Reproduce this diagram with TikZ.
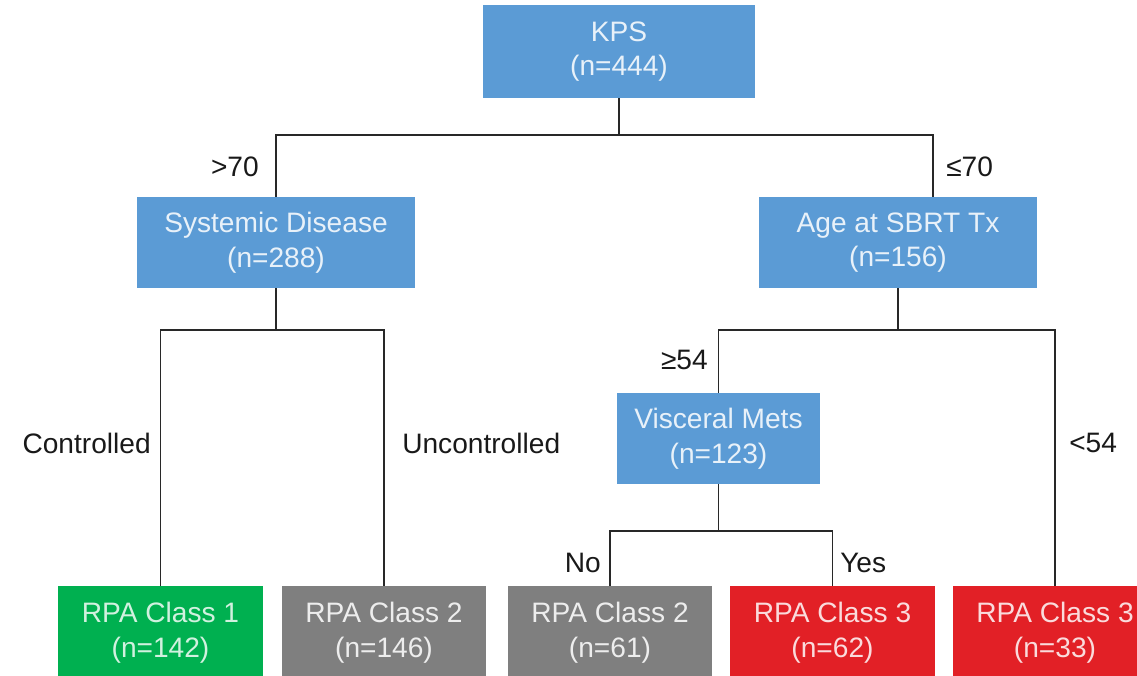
\documentclass[tikz,border=0pt]{standalone}
\usepackage{fontspec}
\setmainfont{Liberation Sans}
\usetikzlibrary{positioning}
\definecolor{rpablue}  {RGB}{91,155,213}
\definecolor{rpagreen} {RGB}{0,176,80}
\definecolor{rpagray}  {RGB}{127,127,127}
\definecolor{rpared}   {RGB}{226,32,38}
\definecolor{rpaline}  {RGB}{40,40,40}

\begin{document}
\begin{tikzpicture}[
  x=0.025cm, y=-0.025cm,
  every node/.style={font=\fontsize{20}{24.5}\selectfont},
  split/.style={fill=rpablue,text=white!86!rpablue,inner sep=0pt,align=center,
                minimum width=6.95cm,minimum height=2.275cm},
  leaf/.style={inner sep=0pt,align=center,minimum width=5.1cm,minimum height=2.325cm},
  leafgreen/.style={leaf,fill=rpagreen,text=white!82!rpagreen},
  leafgray/.style={leaf,fill=rpagray,text=white!86!rpagray},
  leafred/.style={leaf,fill=rpared,text=white!84!rpared},
  link/.style={draw=rpaline,line width=1.2pt},
  cut/.style={text=black!90,inner sep=0pt},
]
\useasboundingbox (0,0) rectangle (1137,676);
\clip (0,0) rectangle (1137,676);

%% ── Root ────────────────────────────────────────────────────────────────
\node[split,minimum width=6.8cm,minimum height=2.325cm] (kps) at (619,51.5)
  {KPS\\(n=444)};

%% ── Second level ────────────────────────────────────────────────────────
\node[split] (sys) at (276,242.5) {Systemic Disease\\(n=288)};
\node[split] (age) at (898,242.5) {Age at SBRT Tx\\(n=156)};

%% ── Third level ─────────────────────────────────────────────────────────
\node[split,minimum width=5.075cm] (visc) at (718.5,438.5)
  {Visceral Mets\\(n=123)};

%% ── RPA classes ─────────────────────────────────────────────────────────
\node[leafgreen] (cls1)  at (160.5,632.5) {RPA Class 1\\(n=142)};
\node[leafgray]  (cls2a) at (384,632.5)   {RPA Class 2\\(n=146)};
\node[leafgray]  (cls2b) at (610,632.5)   {RPA Class 2\\(n=61)};
\node[leafred]   (cls3a) at (832.5,632.5) {RPA Class 3\\(n=62)};
\node[leafred]   (cls3b) at (1055,632.5)  {RPA Class 3\\(n=33)};

%% ── Splits ──────────────────────────────────────────────────────────────
\coordinate (kpsj)  at (619,135);
\coordinate (sysj)  at (276,330);
\coordinate (agej)  at (898,330);
\coordinate (viscj) at (718.5,531);

\draw[link] (kps.south) -- (kpsj);
\draw[link] (kpsj) -| (sys.north);
\draw[link] (kpsj) -| ([xshift=0.875cm]age.north);

\draw[link] (sys.south) -- (sysj);
\draw[link] (sysj) -| (cls1.north);
\draw[link] (sysj) -| (cls2a.north);

\draw[link] (age.south) -- (agej);
\draw[link] (agej) -| (visc.north);
\draw[link] (agej) -| (cls3b.north);

\draw[link] (visc.south) -- (viscj);
\draw[link] (viscj) -| (cls2b.north);
\draw[link] (viscj) -| (cls3a.north);

%% Cut-point labels
\node[cut,anchor=east] (gt70)  at (259,167)  {>70};
\node[cut,anchor=west] (le70)  at (946,167)  {≤70};
\node[cut,anchor=east] (ge54)  at (708,360)  {≥54};
\node[cut,anchor=west] (lt54)  at (1069,443) {<54};
\node[cut,anchor=east] (ctrl)  at (151,443)  {Controlled};
\node[cut,anchor=west] (unctl) at (402,443)  {Uncontrolled};
\node[cut,anchor=east] (no)    at (601,563)  {No};
\node[cut,anchor=west] (yes)   at (840,563)  {Yes};

\end{tikzpicture}
\end{document}
